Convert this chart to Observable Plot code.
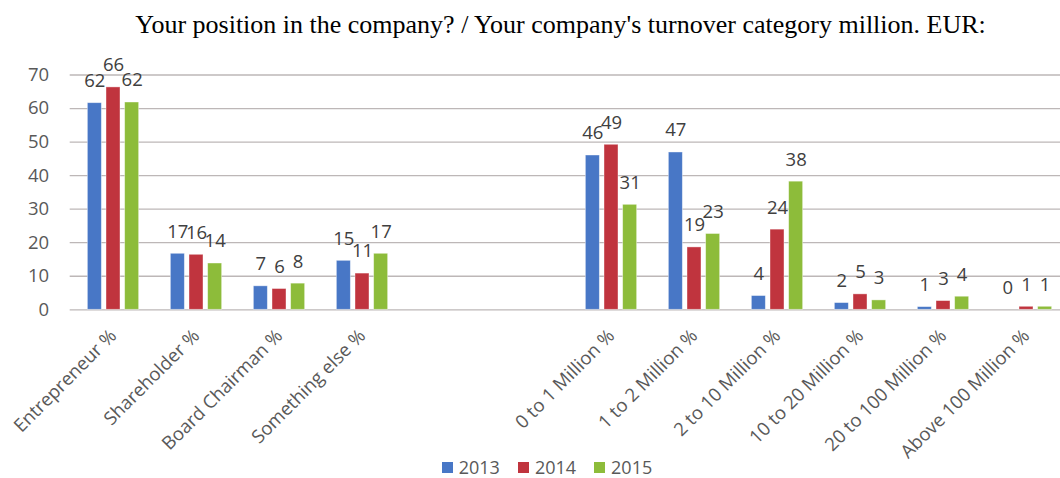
<!DOCTYPE html>
<html><head><meta charset="utf-8">
<script src="https://cdn.jsdelivr.net/npm/d3@7"></script>
<script src="https://cdn.jsdelivr.net/npm/@observablehq/plot@0.6"></script>
<style>
body{margin:0;background:#fff;width:1060px;height:478px;overflow:hidden;}
#title{height:50px;line-height:50px;font-family:"Liberation Serif","Times New Roman",serif;font-size:26px;color:#000;text-align:center;padding-left:61px;box-sizing:border-box;white-space:nowrap}
#chart{width:1060px;height:416px;overflow:hidden}
#legend{position:relative;margin-top:-10px;height:22px;line-height:22px;display:flex;justify-content:center;align-items:center;padding-left:34px;box-sizing:border-box;font-family:"Open Sans",sans-serif;font-size:18px;color:#595959}
#legend .item{display:flex;align-items:center;margin:0 9px;line-height:22px}
#legend .sw{width:11px;height:11px;margin-right:6px}
</style></head><body>
<div id="title"></div><div id="chart"></div><div id="legend"></div>
<script>
const title = "Your position in the company? / Your company's turnover category million. EUR:";
const positionCategories = ["Entrepreneur %","Shareholder %","Board Chairman %","Something else %"];
const turnoverCategories = ["0 to 1 Million %","1 to 2 Million %","2 to 10 Million %","10 to 20 Million %","20 to 100 Million %","Above 100 Million %"];
const years = ["2013","2014","2015"];
const values2013 = [61.6,16.7,7.0,14.6, 46.0,46.9,4.1,2.0,0.8,0];
const values2014 = [66.3,16.4,6.2,10.8, 49.2,18.6,23.9,4.6,2.6,0.9];
const values2015 = [61.8,13.8,7.8,16.7, 31.3,22.6,38.2,2.8,3.9,0.9];
const yTicks = [0,10,20,30,40,50,60,70];
const colors = ["#4877c6","#c0343e","#8dbc3a"];

document.getElementById("title").textContent = title;

const categories = [...positionCategories, ...turnoverCategories];
const series = [values2013, values2014, values2015];
const data = [];
years.forEach((yr, i) => categories.forEach((c, j) => data.push({category: c, year: yr, value: series[i][j]})));
const domain = [...positionCategories, "\u2002", "\u2003", ...turnoverCategories];

const barW = 14.3, gap = 4.35;
const marks = [Plot.ruleY(yTicks, {stroke: "#bdb7b7", strokeWidth: 1.3})];
years.forEach((yr, i) => {
  const d = data.filter(r => r.year === yr);
  const off = (i - 1) * (barW + gap);
  marks.push(Plot.barY(d, {x: "category", y: "value", fill: colors[i], dx: off, stroke: "#ffffff", strokeOpacity: 0.5, strokeWidth: 0.8}));
  marks.push(Plot.text(d, {x: "category", y: "value", text: r => d3.format(".0f")(r.value), dx: off, dy: -22, fill: "#404040", fontSize: 18.5, lineAnchor: "middle"}));
});

const chart = Plot.plot({
  width: 1060, height: 416,
  marginLeft: 69.7, marginRight: -9.7, marginTop: 24.5, marginBottom: 156.7,
  style: {fontFamily: "'Open Sans', sans-serif", fontSize: "18.5px", color: "#595959", background: "#fff"},
  x: {domain, paddingInner: 1 - barW / (1000 / 12), paddingOuter: (1 - barW / (1000 / 12)) / 2, align: 0.5, tickRotate: -45, tickSize: 0, tickPadding: 23, label: null},
  y: {domain: [0, 70], ticks: 7, tickSize: 0, tickPadding: 21, label: null},
  marks
});
document.getElementById("chart").appendChild(chart);

const legend = document.getElementById("legend");
years.forEach((yr, i) => {
  const it = document.createElement("div"); it.className = "item";
  const sw = document.createElement("span"); sw.className = "sw"; sw.style.background = colors[i];
  const t = document.createElement("span"); t.textContent = yr;
  it.appendChild(sw); it.appendChild(t); legend.appendChild(it);
});
</script>
</body></html>
